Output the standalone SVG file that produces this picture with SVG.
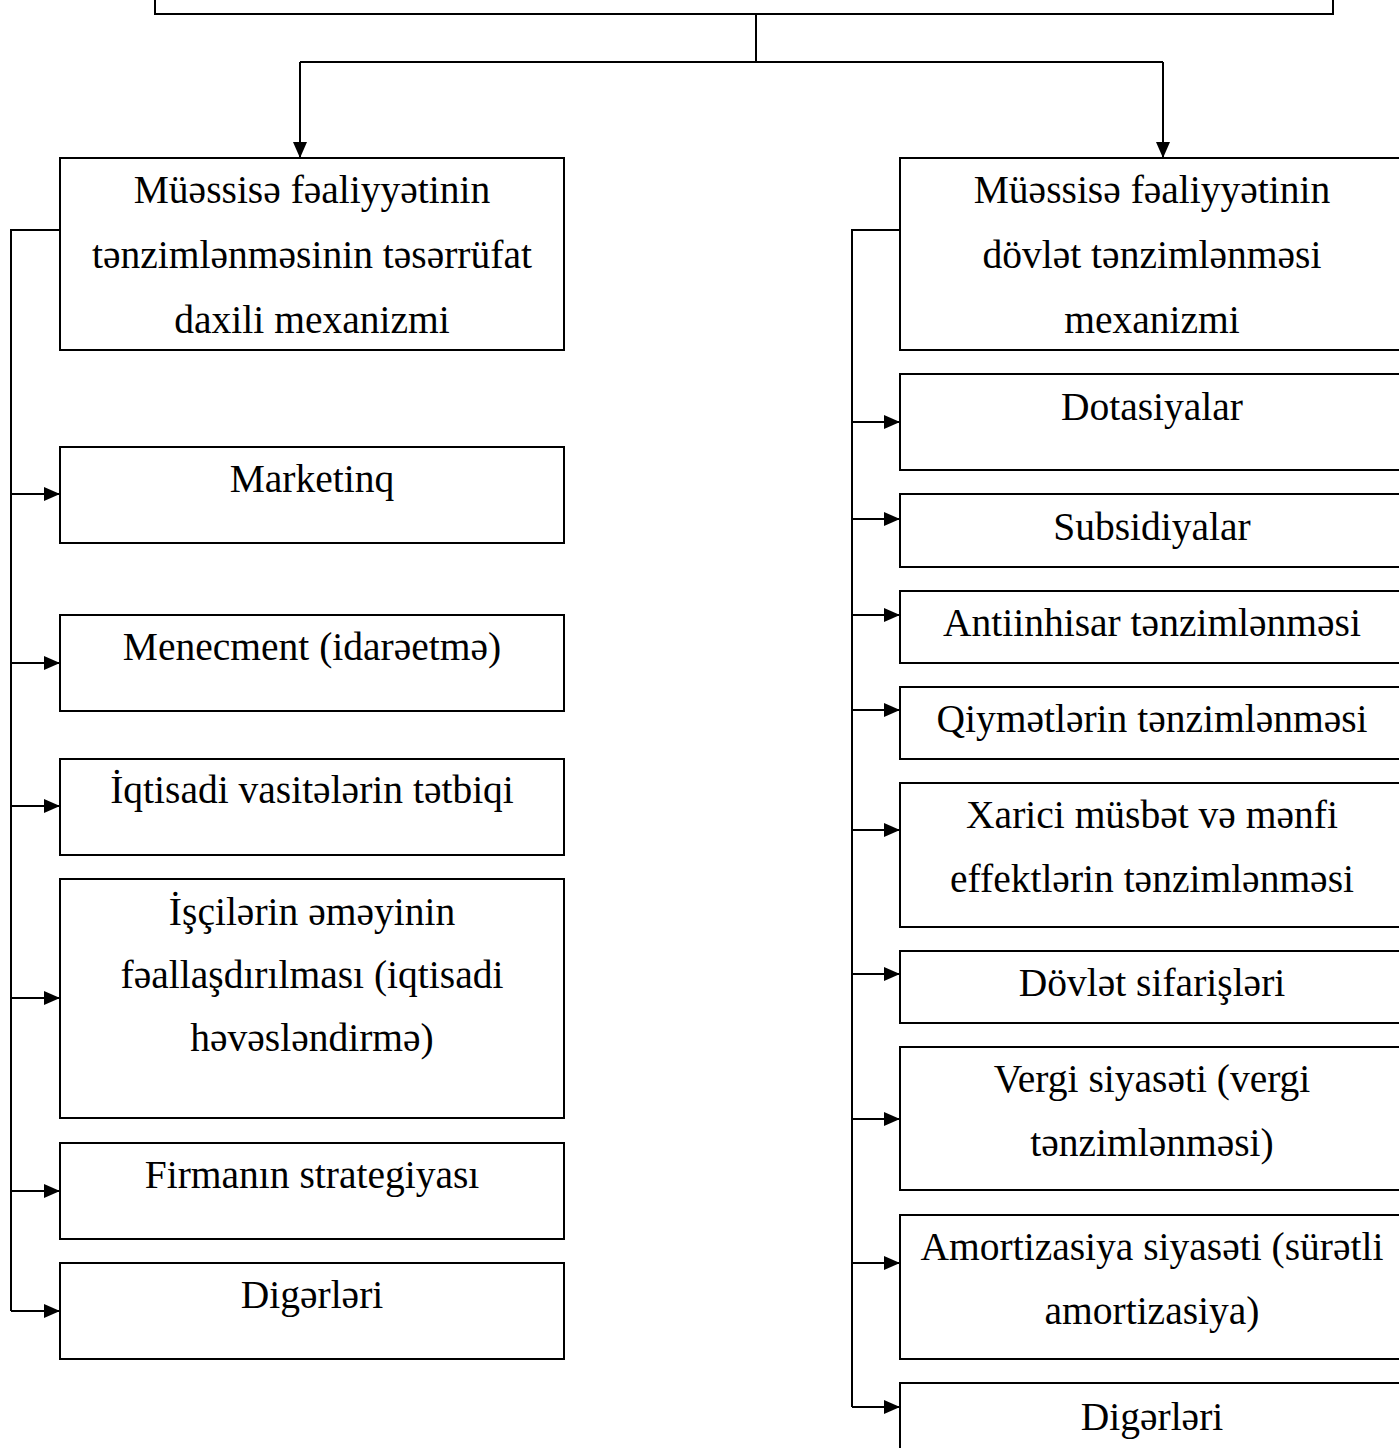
<svg xmlns="http://www.w3.org/2000/svg" width="1399" height="1448" viewBox="0 0 1399 1448">
<defs>
<marker id="ah" markerWidth="16" markerHeight="14" refX="16" refY="7" orient="auto" markerUnits="userSpaceOnUse">
<path d="M0,0 L16,7 L0,14 Z" fill="#000"/>
</marker>
<style>
.b{fill:#fff;stroke:#000;stroke-width:2}
.c{fill:none;stroke:#000;stroke-width:2}
text{font-family:"Liberation Serif","Times New Roman",serif;font-size:39.5px;fill:#000;text-anchor:middle}
</style>
</defs>
<rect width="1399" height="1448" fill="#fff"/>
<g id="top"><rect class="b" x="155" y="-20" width="1178" height="34"/></g>
<g id="connectors">
<path class="c" d="M756,14 V62 M300,62 H1163"/>
<path class="c" d="M300,62 V158" marker-end="url(#ah)"/>
<path class="c" d="M1163,62 V158" marker-end="url(#ah)"/>
<path class="c" d="M60,230 H11 V1311"/>
<path class="c" d="M11,494 H60" marker-end="url(#ah)"/>
<path class="c" d="M11,663 H60" marker-end="url(#ah)"/>
<path class="c" d="M11,806 H60" marker-end="url(#ah)"/>
<path class="c" d="M11,998 H60" marker-end="url(#ah)"/>
<path class="c" d="M11,1191 H60" marker-end="url(#ah)"/>
<path class="c" d="M11,1311 H60" marker-end="url(#ah)"/>
<path class="c" d="M900,230 H852 V1407"/>
<path class="c" d="M852,422 H900" marker-end="url(#ah)"/>
<path class="c" d="M852,519 H900" marker-end="url(#ah)"/>
<path class="c" d="M852,615 H900" marker-end="url(#ah)"/>
<path class="c" d="M852,710 H900" marker-end="url(#ah)"/>
<path class="c" d="M852,830 H900" marker-end="url(#ah)"/>
<path class="c" d="M852,974 H900" marker-end="url(#ah)"/>
<path class="c" d="M852,1119 H900" marker-end="url(#ah)"/>
<path class="c" d="M852,1263 H900" marker-end="url(#ah)"/>
<path class="c" d="M852,1407 H900" marker-end="url(#ah)"/>
</g>
<g id="L1"><rect class="b" x="60" y="158" width="504" height="192"/>
<text x="312" y="203">Müəssisə fəaliyyətinin</text>
<text x="312" y="268">tənzimlənməsinin təsərrüfat</text>
<text x="312" y="333">daxili mexanizmi</text></g>
<g id="L2"><rect class="b" x="60" y="447" width="504" height="96"/><text x="312" y="492">Marketinq</text></g>
<g id="L3"><rect class="b" x="60" y="615" width="504" height="96"/><text x="312" y="660">Menecment (idarəetmə)</text></g>
<g id="L4"><rect class="b" x="60" y="759" width="504" height="96"/><text x="312" y="803">İqtisadi vasitələrin tətbiqi</text></g>
<g id="L5"><rect class="b" x="60" y="879" width="504" height="239"/>
<text x="312" y="925">İşçilərin əməyinin</text>
<text x="312" y="988">fəallaşdırılması (iqtisadi</text>
<text x="312" y="1051">həvəsləndirmə)</text></g>
<g id="L6"><rect class="b" x="60" y="1143" width="504" height="96"/><text x="312" y="1188">Firmanın strategiyası</text></g>
<g id="L7"><rect class="b" x="60" y="1263" width="504" height="96"/><text x="312" y="1308">Digərləri</text></g>
<g id="R1"><rect class="b" x="900" y="158" width="520" height="192"/>
<text x="1152" y="203">Müəssisə fəaliyyətinin</text>
<text x="1152" y="268">dövlət tənzimlənməsi</text>
<text x="1152" y="333">mexanizmi</text></g>
<g id="R2"><rect class="b" x="900" y="374" width="520" height="96"/><text x="1152" y="420">Dotasiyalar</text></g>
<g id="R3"><rect class="b" x="900" y="494" width="520" height="73"/><text x="1152" y="540">Subsidiyalar</text></g>
<g id="R4"><rect class="b" x="900" y="591" width="520" height="72"/><text x="1152" y="636">Antiinhisar tənzimlənməsi</text></g>
<g id="R5"><rect class="b" x="900" y="687" width="520" height="72"/><text x="1152" y="732">Qiymətlərin tənzimlənməsi</text></g>
<g id="R6"><rect class="b" x="900" y="783" width="520" height="144"/>
<text x="1152" y="828">Xarici müsbət və mənfi</text>
<text x="1152" y="892">effektlərin tənzimlənməsi</text></g>
<g id="R7"><rect class="b" x="900" y="951" width="520" height="72"/><text x="1152" y="996">Dövlət sifarişləri</text></g>
<g id="R8"><rect class="b" x="900" y="1047" width="520" height="143"/>
<text x="1152" y="1092">Vergi siyasəti (vergi</text>
<text x="1152" y="1156">tənzimlənməsi)</text></g>
<g id="R9"><rect class="b" x="900" y="1215" width="520" height="144"/>
<text x="1152" y="1260">Amortizasiya siyasəti (sürətli</text>
<text x="1152" y="1324">amortizasiya)</text></g>
<g id="R10"><rect class="b" x="900" y="1383" width="520" height="100"/><text x="1152" y="1430">Digərləri</text></g>
</svg>
